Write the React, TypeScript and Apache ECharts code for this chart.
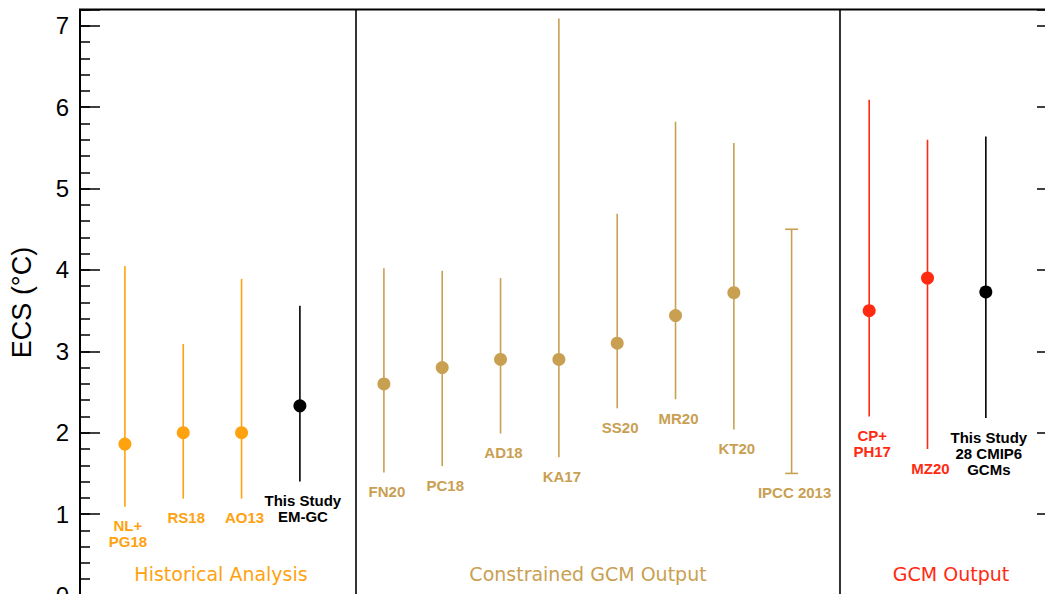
import React, { useEffect, useRef } from "react";
import * as echarts from "echarts";

// ---- data ----
const categories = [
  "NL+\nPG18", "RS18", "AO13", "This Study\nEM-GC",
  "FN20", "PC18", "AD18", "KA17", "SS20", "MR20", "KT20", "IPCC 2013",
  "CP+\nPH17", "MZ20", "This Study\n28 CMIP6\nGCMs",
];
const xSlots = [0.77, 1.77, 2.77, 3.77, 5.21, 6.21, 7.21, 8.21, 9.21, 10.21, 11.21, 12.2, 13.53, 14.53, 15.53];
const bestEstimate: (number | null)[] = [1.86, 2.0, 2.0, 2.33, 2.6, 2.8, 2.9, 2.9, 3.1, 3.44, 3.72, null, 3.5, 3.9, 3.73];
const lowerBound = [1.09, 1.19, 1.19, 1.4, 1.51, 1.59, 1.99, 1.7, 2.3, 2.41, 2.04, 1.5, 2.2, 1.8, 2.18];
const upperBound = [4.05, 3.09, 3.89, 3.56, 4.02, 3.99, 3.9, 7.09, 4.69, 5.82, 5.56, 4.5, 6.09, 5.6, 5.64];
const groupOf = ["hist", "hist", "hist", "study", "con", "con", "con", "con", "con", "con", "con", "con", "gcm", "gcm", "study"];
const capped = [false, false, false, false, false, false, false, false, false, false, false, true, false, false, false];
const dividerSlots = [4.72, 13.02];
const groupTitles = ["Historical Analysis", "Constrained GCM Output", "GCM Output"];
const groupTitleCenters = [221, 588, 951];
const groupTitleColors = ["hist", "con", "gcm"];
const yMin = 0;
const yMax = 7.2;
const xMin = 0;
const xMax = 16.75;

const palette: Record<string, string> = {
  hist: "#FFA20F",
  con: "#C9A052",
  gcm: "#FF2A10",
  study: "#000000",
};

function buildOption() {
  const rangeData = categories.map((c, i) => [xSlots[i], lowerBound[i], upperBound[i], i]);
  const pointData = categories
    .map((c, i) =>
      bestEstimate[i] == null
        ? null
        : { value: [xSlots[i], bestEstimate[i]], itemStyle: { color: palette[groupOf[i]], opacity: 1 } }
    )
    .filter((d) => d !== null);

  return {
    animation: false,
    backgroundColor: "#ffffff",
    grid: {
      left: 79,
      right: 43,
      top: 9.5,
      bottom: 44.5,
      show: true,
      borderColor: "#000",
      borderWidth: 2,
      backgroundColor: "transparent",
    },
    xAxis: {
      type: "value",
      min: xMin,
      max: xMax,
      axisLine: { show: false },
      axisTick: { show: false },
      axisLabel: { show: false },
      splitLine: { show: false },
    },
    yAxis: [
      {
        type: "value",
        min: yMin,
        max: yMax,
        interval: 1,
        position: "left",
        name: "ECS (°C)",
        nameLocation: "middle",
        nameGap: 45,
        nameTextStyle: { fontSize: 27, fontFamily: "Liberation Sans", color: "#000" },
        axisLine: { show: false },
        axisTick: { show: true, inside: true, length: 20, lineStyle: { color: "#000", width: 1.5 } },
        axisLabel: {
          margin: 11,
          fontSize: 24,
          fontFamily: "Liberation Sans",
          color: "#000",
          formatter: (v: number) => (Math.abs(v - Math.round(v)) < 1e-6 ? String(Math.round(v)) : ""),
        },
        splitLine: { show: false },
      },
      {
        type: "value",
        min: yMin,
        max: yMax,
        interval: 0.2,
        position: "left",
        axisLine: { show: false },
        axisTick: { show: true, inside: true, length: 10, lineStyle: { color: "#000", width: 1.5 } },
        axisLabel: { show: false },
        splitLine: { show: false },
      },
      {
        type: "value",
        min: yMin,
        max: yMax,
        interval: 1,
        position: "right",
        axisLine: { show: false },
        axisTick: { show: true, inside: true, length: 20, lineStyle: { color: "#000", width: 1.5 } },
        axisLabel: { show: false },
        splitLine: { show: false },
      },
    ],
    graphic: groupTitles.map((t, i) => ({
      type: "text",
      x: groupTitleCenters[i],
      y: 574,
      style: {
        text: t,
        fill: palette[groupTitleColors[i]],
        font: '19px "DejaVu Sans"',
        align: "center",
        verticalAlign: "middle",
      },
    })),
    series: [
      {
        type: "custom",
        yAxisIndex: 0,
        z: 2,
        data: rangeData,
        renderItem: (params: any, api: any) => {
          const x = api.value(0);
          const lo = api.value(1);
          const hi = api.value(2);
          const idx = api.value(3);
          const pLo = api.coord([x, lo]);
          const pHi = api.coord([x, hi]);
          const color = palette[groupOf[idx]];
          const children: any[] = [
            {
              type: "line",
              shape: { x1: pLo[0], y1: pLo[1], x2: pHi[0], y2: pHi[1] },
              style: { stroke: color, lineWidth: 1.6 },
            },
          ];
          if (capped[idx]) {
            children.push(
              { type: "line", shape: { x1: pHi[0] - 6.5, y1: pHi[1], x2: pHi[0] + 6.5, y2: pHi[1] }, style: { stroke: color, lineWidth: 1.6 } },
              { type: "line", shape: { x1: pLo[0] - 6.5, y1: pLo[1], x2: pLo[0] + 6.5, y2: pLo[1] }, style: { stroke: color, lineWidth: 1.6 } }
            );
          }
          children.push({
            type: "text",
            style: {
              text: categories[idx],
              x: pLo[0] + 3,
              y: pLo[1] + 11,
              fill: color,
              font: 'bold 15px "Liberation Sans"',
              align: "center",
              verticalAlign: "top",
              lineHeight: 16,
            },
          });
          return { type: "group", children };
        },
      },
      {
        type: "scatter",
        yAxisIndex: 0,
        z: 3,
        symbol: "circle",
        symbolSize: 13,
        data: pointData,
        markLine: {
          silent: true,
          symbol: "none",
          label: { show: false },
          lineStyle: { color: "#000", width: 1.6, type: "solid" },
          data: dividerSlots.map((d) => ({ xAxis: d })),
        },
      },
    ],
  };
}

export default function App() {
  const ref = useRef<HTMLDivElement>(null);
  useEffect(() => {
    if (!ref.current) return;
    const chart = echarts.init(ref.current, undefined, { renderer: "svg" });
    chart.setOption(buildOption() as any);
    return () => chart.dispose();
  }, []);
  return (
    <div
      style={{
        position: "fixed",
        left: 0,
        top: 0,
        width: 1045,
        height: 594,
        overflow: "hidden",
        background: "#fff",
      }}
    >
      <div ref={ref} style={{ width: 1100, height: 640 }} />
    </div>
  );
}
